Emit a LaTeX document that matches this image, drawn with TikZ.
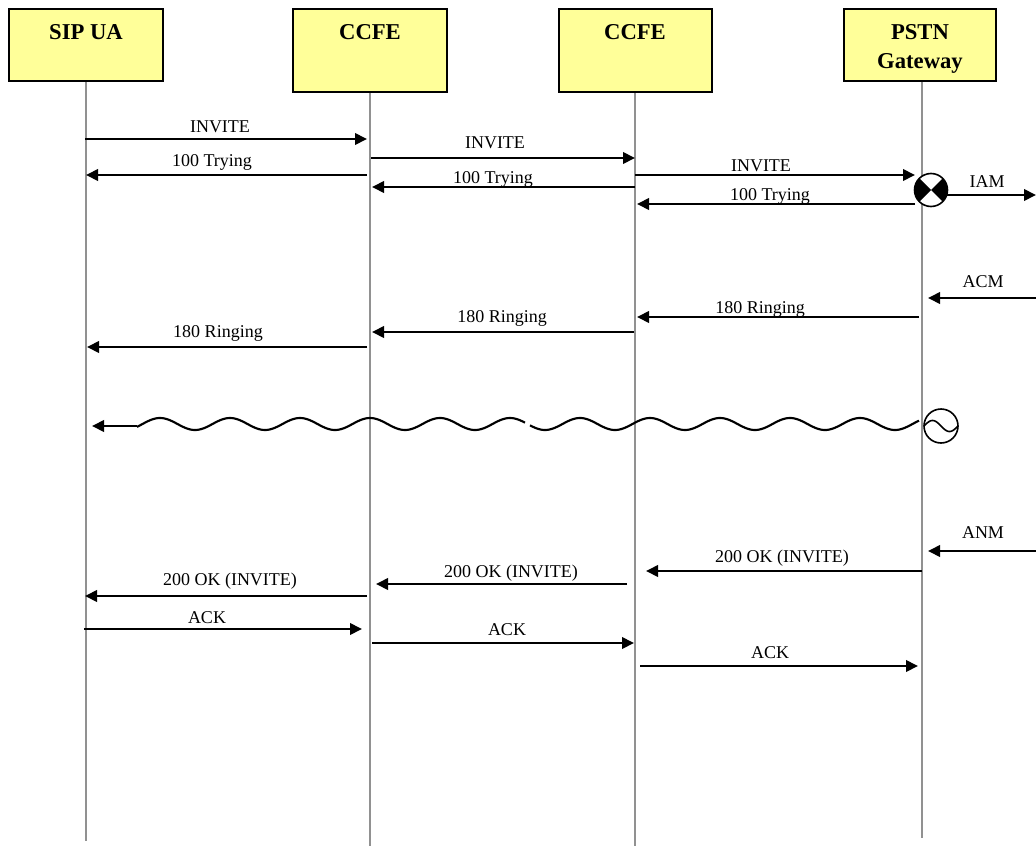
\documentclass[tikz,border=0pt]{standalone}
\usepackage{fontspec}
\setmainfont{Liberation Serif}
\usetikzlibrary{arrows.meta}
\newdimen\pxu \pxu=0.75pt
\definecolor{boxyellow}{RGB}{255,255,153}
\definecolor{lifegray}{RGB}{145,145,145}
\begin{document}
\begin{tikzpicture}[x=0.75pt,y=-0.75pt,
  box/.style={draw=black,line width=1.5pt,fill=boxyellow,inner sep=0pt},
  life/.style={draw=lifegray,line width=2pt},
  msg/.style={draw=black,line width=2pt,-{Triangle[length=9pt,width=8.5pt]}},
  lbl/.style={font=\fontsize{13.5}{16}\selectfont,anchor=base,inner sep=0pt},
  ttl/.style={font=\fontsize{17}{20}\selectfont\bfseries,anchor=base,inner sep=0pt},
  wave/.style={draw=black,line width=1.6pt}]
\useasboundingbox (0,0) rectangle (1036,846);
\fill[white] (0,0) rectangle (1036,846);

% lifelines
\coordinate (sipEnd) at (86,841);
\coordinate (cc1End) at (370,846);
\coordinate (cc2End) at (635,846);
\coordinate (pgTop) at (922,81);
\coordinate (pgEnd) at (922,838);
\draw[life] (86,81) -- (sipEnd);
\draw[life] (370,92) -- (cc1End);
\draw[life] (635,92) -- (cc2End);
\draw[life] (pgTop) -- (pgEnd);

% boxes
\node[box,minimum width=154\pxu,minimum height=72\pxu] (sip) at (86,45) {};
\node[box,minimum width=154\pxu,minimum height=83\pxu] (cc1) at (370,50.5) {};
\node[box,minimum width=153\pxu,minimum height=83\pxu] (cc2) at (635,50.5) {};
\node[box,minimum width=152\pxu,minimum height=72\pxu] (pg) at (920,45) {};
\node[ttl] (sipT) at (86,40) {SIP UA};
\node[ttl] (cc1T) at (370,40) {CCFE};
\node[ttl] (cc2T) at (635,40) {CCFE};
\node[ttl] (pgT1) at (920,40) {PSTN};
\node[ttl] (pgT2) at (920,68) {Gateway};

% messages
\draw[msg] (85,139) -- (367,139);
\node[lbl] (l1) at (220,132) {INVITE};
\draw[msg] (367,175) -- (86,175);
\node[lbl] (l2) at (212,166) {100 Trying};
\draw[msg] (371,158) -- (635,158);
\node[lbl] (l3) at (495,148) {INVITE};
\draw[msg] (635,187) -- (372,187);
\node[lbl] (l4) at (493,183) {100 Trying};
\draw[msg] (635,175) -- (915,175);
\node[lbl] (l5) at (761,171) {INVITE};
\draw[msg] (915,204) -- (637,204);
\node[lbl] (l6) at (770,200) {100 Trying};

% IAM symbol
\begin{scope}
\fill[white] (931,190) circle[radius=16.5\pxu];
\clip (931,190) circle[radius=16.5\pxu];
\fill[black] (931,190) -- (905,164) -- (905,216) -- cycle;
\fill[black] (931,190) -- (957,164) -- (957,216) -- cycle;
\end{scope}
\node[draw=black,line width=1.2pt,circle,minimum size=33\pxu,inner sep=0pt] (iamc) at (931,190) {};
\coordinate (iamEnd) at (1036,195);
\draw[msg] (947,195) -- (iamEnd);
\node[lbl] (l7) at (987,187) {IAM};

\coordinate (acmStart) at (1036,298);
\draw[msg] (acmStart) -- (928,298);
\node[lbl] (l8) at (983,287) {ACM};

\draw[msg] (919,317) -- (637,317);
\node[lbl] (l9) at (760,313) {180 Ringing};
\draw[msg] (634,332) -- (372,332);
\node[lbl] (l10) at (502,322) {180 Ringing};
\draw[msg] (367,347) -- (87,347);
\node[lbl] (l11) at (218,337) {180 Ringing};

% wavy media line
\draw[wave] plot[domain=137:525,samples=220] (\x,{424-6*cos(((\x-160)/70)*360)});
\draw[wave] plot[domain=530:919,samples=220] (\x,{424-6*cos(((\x-160)/70)*360)});
\draw[msg] (137,426) -- (92,426);
\node[draw=black,line width=1.2pt,circle,minimum size=34\pxu,inner sep=0pt] (tone) at (941,426) {};
\draw[black,line width=1.2pt] plot[domain=924:958,samples=60] (\x,{426-5.5*sin(((\x-924)/34)*360)});

\coordinate (anmStart) at (1036,551);
\draw[msg] (anmStart) -- (928,551);
\node[lbl] (l12) at (983,538) {ANM};

\draw[msg] (922,571) -- (646,571);
\node[lbl] (l13) at (782,562) {200 OK (INVITE)};
\draw[msg] (627,584) -- (376,584);
\node[lbl] (l14) at (511,577) {200 OK (INVITE)};
\draw[msg] (367,596) -- (85,596);
\node[lbl] (l15) at (230,585) {200 OK (INVITE)};

\draw[msg] (84,629) -- (362,629);
\node[lbl] (l16) at (207,623) {ACK};
\draw[msg] (372,643) -- (634,643);
\node[lbl] (l17) at (507,635) {ACK};
\draw[msg] (640,666) -- (918,666);
\node[lbl] (l18) at (770,658) {ACK};
\end{tikzpicture}
\end{document}
